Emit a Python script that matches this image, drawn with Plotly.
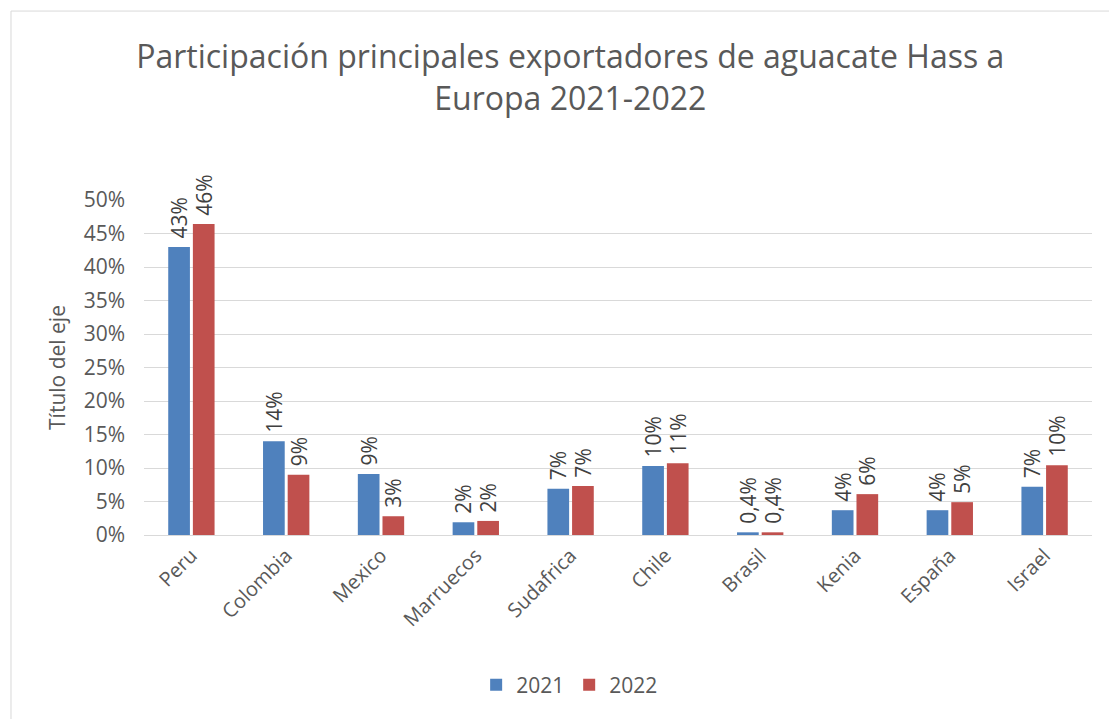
import plotly.graph_objects as go

paises = ["Peru", "Colombia", "Mexico", "Marruecos", "Sudafrica", "Chile",
          "Brasil", "Kenia", "España", "Israel"]
v2021 = [0.430, 0.140, 0.091, 0.019, 0.069, 0.103, 0.004, 0.037, 0.037, 0.072]
v2022 = [0.464, 0.090, 0.028, 0.021, 0.073, 0.107, 0.004, 0.061, 0.049, 0.104]
etq2021 = ["43%", "14%", "9%", "2%", "7%", "10%", "0,4%", "4%", "4%", "7%"]
etq2022 = ["46%", "9%", "3%", "2%", "7%", "11%", "0,4%", "6%", "5%", "10%"]

FONT = "'Open Sans', sans-serif"
GRIS = "#595959"

fig = go.Figure()
for nombre, vals, etq, color in [("2021", v2021, etq2021, "#4f81bd"),
                                 ("2022", v2022, etq2022, "#c0504d")]:
    fig.add_trace(go.Bar(
        x=paises, y=vals, name=nombre, text=etq,
        texttemplate="\u00a0%{text}",  # small gap above the bar
        textposition="outside", textangle=-90, cliponaxis=False,
        constraintext="none",
        textfont=dict(size=21, color="#404040", family=FONT),
        marker=dict(color=color, line=dict(width=0)),
    ))

# the page body adds 8px, so the figure is a bit smaller than the window
fig.update_layout(
    width=1109, height=711,
    paper_bgcolor="white", plot_bgcolor="white",
    font=dict(family=FONT, color=GRIS),
    margin=dict(l=136, r=25, t=192, b=184),
    title=dict(
        text="Participación principales exportadores de aguacate Hass a<br>Europa 2021-2022",
        x=0.507, xanchor="center", y=0.915, yanchor="top",
        font=dict(size=32, color=GRIS, family=FONT),
    ),
    barmode="group", bargap=0.48, bargroupgap=0.12,
    legend=dict(orientation="h", x=0.449, xanchor="center", y=-0.448, yanchor="middle",
                font=dict(size=21, color=GRIS), traceorder="normal"),
)

fig.update_yaxes(
    range=[0, 0.5], dtick=0.05, tickformat=".0%",
    showgrid=True, gridcolor="#d9d9d9", gridwidth=1,
    zeroline=False, showline=False,
    tickfont=dict(size=21, color=GRIS), ticks="", ticklabelstandoff=18,
    title=dict(text="Título del eje", font=dict(size=21, color=GRIS), standoff=12),
)
fig.update_xaxes(
    tickangle=-45, tickfont=dict(size=20, color=GRIS),
    showline=True, linecolor="#d9d9d9", linewidth=1, ticks="",
)

fig.add_shape(type="rect", xref="paper", yref="paper",
              x0=-0.1403, x1=1.03, y0=-0.57, y1=1.564,
              line=dict(color="#d9d9d9", width=1), layer="below")

fig.write_html("out.html")
